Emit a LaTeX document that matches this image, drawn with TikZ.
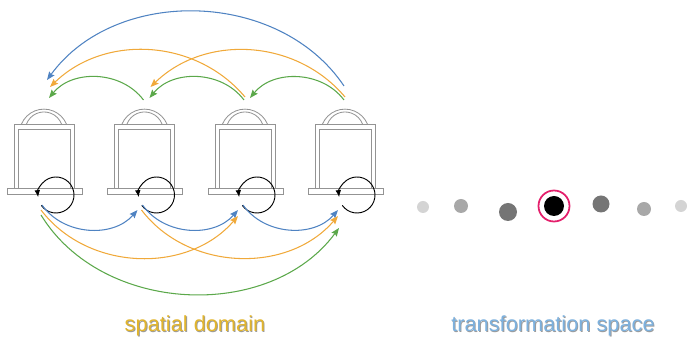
\documentclass[tikz,border=0pt]{standalone}
\usepackage{fontspec}
\setmainfont{Liberation Sans}
\usepackage{xcolor}
\usepackage{tikz}
\usetikzlibrary{arrows.meta,positioning,calc}

\definecolor{framegray}{HTML}{939393}
\definecolor{flowblue}{HTML}{4F83C2}
\definecolor{floworange}{HTML}{F0A93A}
\definecolor{flowgreen}{HTML}{5BA84A}
\definecolor{domaingold}{HTML}{E2B52C}
\definecolor{spaceblue}{HTML}{7DB1DE}
\definecolor{ringpink}{HTML}{E4206C}

\begin{document}
\begin{tikzpicture}[x=0.03cm, y=0.03cm, font=\fontsize{18.6}{22}\selectfont]
    \tikzset{
        frame/.style={draw=framegray, line width=0.7pt},
        link/.style={-{Stealth[length=7pt, width=5.5pt, inset=1pt]}, line width=0.9pt},
        spin/.style={-{Latex[length=6pt, width=4.8pt]}, line width=0.8pt, black},
        shadowtext/.style={black!60, opacity=0.65},
    }
    \useasboundingbox (0,0) rectangle (687,338);

    % Devices in the spatial domain
    \foreach \i/\x in {1/44, 2/144.5, 3/245, 4/345} {
            \begin{scope}[shift={(\x,0)}]
                \draw[frame] (-30,150) rectangle (30,214);      % outer frame
                \draw[frame] (-26,150) -- (-26,209) -- (26,209) -- (26,150);
                \draw[frame] (-37,144) rectangle (38,150);      % base
                \draw[frame] (-22.5,214) arc[start angle=157, end angle=23, radius=24.4];
                \draw[frame] (-17.5,214) arc[start angle=159, end angle=21, radius=18.75];
                \draw[spin] (12,143) ++(215:18) arc[start angle=215, end angle=547, radius=18];

                % ends of the links
                \coordinate (bs\i-1) at (-2,133);
                \coordinate (bs\i-2) at (-3,128);
                \coordinate (bs\i-3) at (-3,123);
                \coordinate (be\i-1) at (-7,128);
                \coordinate (be\i-2) at (-7,122);
                \coordinate (be\i-3) at (-6,110);
                \coordinate (ts\i-1) at (-1,238);
                \coordinate (ts\i-2) at (0,241);
                \coordinate (ts\i-3) at (-1,252);
                \coordinate (te\i-1) at (5,240);
                \coordinate (te\i-2) at (6,251);
                \coordinate (te\i-3) at (3,258);
            \end{scope}
        }

    % Forward links below
    \foreach \a/\b/\k/\c/\bend in {1/2/1/flowblue/52, 2/3/1/flowblue/52, 3/4/1/flowblue/52,
            1/3/2/floworange/51, 2/4/2/floworange/51, 1/4/3/flowgreen/56} {
            \draw[link, \c] (bs\a-\k) to[bend right=\bend] (be\b-\k);
        }

    % Backward links above
    \foreach \a/\b/\k/\c/\bend in {2/1/1/flowgreen/52, 3/2/1/flowgreen/52, 4/3/1/flowgreen/52,
            3/1/2/floworange/47, 4/2/2/floworange/47, 4/1/3/flowblue/55} {
            \draw[link, \c] (ts\a-\k) to[bend right=\bend] (te\b-\k);
        }

    % Transformation space
    \foreach \x/\y/\r/\c in {423/131/6/black!17, 461/132/7/black!34, 508/126/9/black!54,
            601/134/8.5/black!54, 644/129/7/black!34, 681/132/6/black!17} {
            \fill[\c] (\x,\y) circle (\r);
        }
    \fill[black] (554,132) circle (10);
    \draw[ringpink, line width=1.5pt] (554,132) circle (15.5);

    % Captions
    \node[shadowtext] (spatialshadow) at (195.9,11.1) {spatial domain};
    \node[domaingold] (spatial) at (195,12) {spatial domain};
    \node[shadowtext] (spaceshadow) at (553.9,11.1) {transformation space};
    \node[spaceblue] (space) at (553,12) {transformation space};

\end{tikzpicture}
\end{document}
